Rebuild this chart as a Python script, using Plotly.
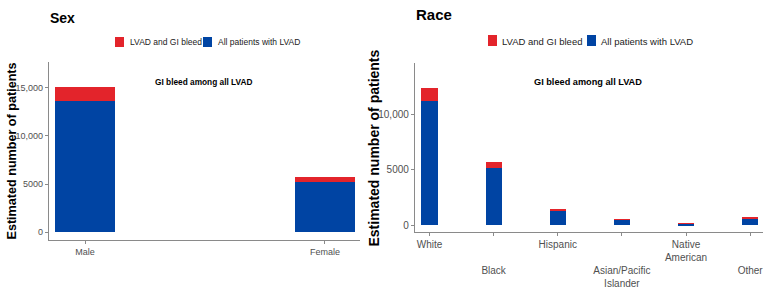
import plotly.graph_objects as go

W, H = 770, 295

# ---- data ----
sex_cats = ["Male", "Female"]
sex_all_lvad = [13600, 5220]        # blue segment
sex_gi_bleed = [1450, 520]          # red segment (stacked on top)

race_cats = ["White", "Black", "Hispanic", "Asian/Pacific Islander", "Native American", "Other"]
race_ticktext = ["White", "\u00a0<br>\u00a0<br>Black", "Hispanic",
                 "\u00a0<br>\u00a0<br>Asian/Pacific<br>Islander", "Native<br>American",
                 "\u00a0<br>\u00a0<br>Other"]
race_all_lvad = [11225, 5160, 1260, 500, 150, 630]
race_gi_bleed = [1170, 515, 235, 40, 20, 55]

sex_yticks = [0, 5000, 10000, 15000]
sex_yticktext = ["0", "5000", "10,000", "15,000"]
race_yticks = [0, 5000, 10000]
race_yticktext = ["0", "5000", "10,000"]

RED = "#e3242b"
BLUE = "#0044a3"
FONT = "Liberation Sans, Arial, sans-serif"
AXC = "#8a8a8a"
TXC = "#505050"


def px(x):
    return x / W


def py(y):
    return 1 - y / H


fig = go.Figure()

fig.add_trace(go.Bar(x=list(range(len(sex_cats))), y=sex_all_lvad, name="All patients with LVAD",
                     marker=dict(color=BLUE, line=dict(width=0)), width=0.25,
                     xaxis="x", yaxis="y", showlegend=False))
fig.add_trace(go.Bar(x=list(range(len(sex_cats))), y=sex_gi_bleed, name="LVAD and GI bleed",
                     marker=dict(color=RED, line=dict(width=0)), width=0.25,
                     xaxis="x", yaxis="y", showlegend=False))
fig.add_trace(go.Bar(x=list(range(len(race_cats))), y=race_all_lvad, name="All patients with LVAD",
                     marker=dict(color=BLUE, line=dict(width=0)), width=0.25,
                     xaxis="x2", yaxis="y2", showlegend=False))
fig.add_trace(go.Bar(x=list(range(len(race_cats))), y=race_gi_bleed, name="LVAD and GI bleed",
                     marker=dict(color=RED, line=dict(width=0)), width=0.25,
                     xaxis="x2", yaxis="y2", showlegend=False))

axis_common = dict(showline=True, linecolor=AXC, linewidth=1.3, ticks="outside", ticklen=3,
                   tickcolor=AXC, tickwidth=1, showgrid=False, zeroline=False, automargin=False)

fig.update_layout(
    width=W, height=H, margin=dict(l=0, r=0, t=0, b=0),
    template="none", barmode="stack",
    paper_bgcolor="white", plot_bgcolor="white",
    font=dict(family=FONT, color=TXC),
    xaxis=dict(domain=[px(49), px(360)], range=[-0.15, 1.146], anchor="y",
               tickvals=list(range(len(sex_cats))), ticktext=sex_cats,
               tickfont=dict(size=9, color=TXC), **axis_common),
    yaxis=dict(domain=[py(239.7), py(62)], range=[-770, 17670], anchor="x",
               tickvals=sex_yticks, ticktext=sex_yticktext,
               tickfont=dict(size=9, color=TXC), **axis_common),
    xaxis2=dict(domain=[px(415), px(763)], range=[-0.226, 5.2], anchor="y2",
                tickvals=list(range(len(race_cats))), ticktext=race_ticktext,
                tickfont=dict(size=10, color=TXC), **axis_common),
    yaxis2=dict(domain=[py(232.3), py(63)], range=[-631, 14622], anchor="x2",
                tickvals=race_yticks, ticktext=race_yticktext,
                tickfont=dict(size=10, color=TXC), **axis_common),
)

ann = []
# panel titles
ann.append(dict(text="<b>Sex</b>", x=px(48), y=py(18), xanchor="left", yanchor="middle",
                font=dict(size=14, color="black")))
ann.append(dict(text="<b>Race</b>", x=px(414), y=py(14), xanchor="left", yanchor="middle",
                font=dict(size=15, color="black")))
# inner titles
ann.append(dict(text="<b>GI bleed among all LVAD</b>", x=px(204), y=py(82), xanchor="center",
                yanchor="middle", font=dict(size=8.3, color="black")))
ann.append(dict(text="<b>GI bleed among all LVAD</b>", x=px(588), y=py(82), xanchor="center",
                yanchor="middle", font=dict(size=9.2, color="black")))
# y titles
ann.append(dict(text="<b>Estimated number of patients</b>", x=px(11), y=py(151.5), textangle=-90,
                xanchor="center", yanchor="middle", font=dict(size=12.6, color="black")))
ann.append(dict(text="<b>Estimated number of patients</b>", x=px(374), y=py(148.5), textangle=-90,
                xanchor="center", yanchor="middle", font=dict(size=14, color="black")))
# legend texts
ann.append(dict(text="LVAD and GI bleed", x=px(128), y=py(42), xanchor="left", yanchor="middle",
                font=dict(size=8.5, color="#222222")))
ann.append(dict(text="All patients with LVAD", x=px(216), y=py(42), xanchor="left", yanchor="middle",
                font=dict(size=8.5, color="#222222")))
ann.append(dict(text="LVAD and GI bleed", x=px(500), y=py(41), xanchor="left", yanchor="middle",
                font=dict(size=9.5, color="#222222")))
ann.append(dict(text="All patients with LVAD", x=px(599), y=py(41), xanchor="left", yanchor="middle",
                font=dict(size=9.5, color="#222222")))
for a in ann:
    a.update(xref="paper", yref="paper", showarrow=False)
fig.update_layout(annotations=ann)

shapes = []
for (x0, y0, x1, y1, c) in [(115, 37, 124, 47, RED), (203, 37, 212, 47, BLUE),
                            (488, 35, 497, 46, RED), (587, 35, 596, 46, BLUE)]:
    shapes.append(dict(type="rect", xref="paper", yref="paper", x0=px(x0), x1=px(x1),
                       y0=py(y1), y1=py(y0), fillcolor=c, line=dict(width=0)))
fig.update_layout(shapes=shapes)

fig.write_html("out.html")
